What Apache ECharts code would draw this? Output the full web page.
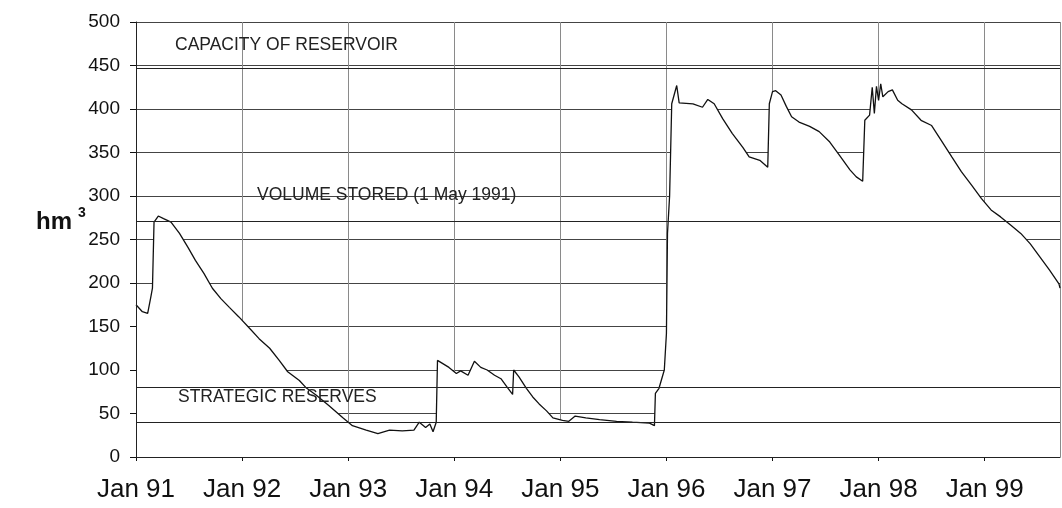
<!DOCTYPE html>
<html>
<head>
<meta charset="utf-8">
<script src="https://cdn.jsdelivr.net/npm/echarts@6/dist/echarts.min.js"></script>
<style>
  html, body { margin: 0; padding: 0; background: #fff; }
  #chart { width: 1062px; height: 508px; }
</style>
</head>
<body>
<div id="chart"></div>
<script>
// time in decimal years, volume in hm3
const years = [
  1991.00, 1991.06, 1991.11, 1991.14, 1991.155, 1991.17, 1991.21, 1991.26, 1991.33, 1991.41,
  1991.49, 1991.56, 1991.64, 1991.72, 1991.80, 1991.88, 1991.97, 1992.07, 1992.16, 1992.26,
  1992.35, 1992.43, 1992.54, 1992.60, 1992.70, 1992.82, 1992.95, 1993.04, 1993.17, 1993.28,
  1993.39, 1993.51, 1993.62, 1993.67, 1993.73, 1993.77, 1993.80, 1993.83, 1993.842, 1993.86,
  1993.95, 1994.02, 1994.06, 1994.13, 1994.19, 1994.25, 1994.31, 1994.38, 1994.44, 1994.50,
  1994.55, 1994.56, 1994.61, 1994.68, 1994.74, 1994.80, 1994.87, 1994.93, 1995.02, 1995.08,
  1995.14, 1995.24, 1995.37, 1995.53, 1995.68, 1995.84, 1995.887, 1995.896, 1995.93, 1995.98,
  1996.00, 1996.01, 1996.03, 1996.05, 1996.097, 1996.12, 1996.25, 1996.34, 1996.39, 1996.45,
  1996.53, 1996.62, 1996.72, 1996.78, 1996.88, 1996.955, 1996.97, 1997.00, 1997.03, 1997.08,
  1997.13, 1997.18, 1997.25, 1997.35, 1997.44, 1997.54, 1997.63, 1997.73, 1997.79, 1997.85,
  1997.87, 1997.915, 1997.94, 1997.96, 1997.98, 1998.00, 1998.02, 1998.04, 1998.09, 1998.13,
  1998.18, 1998.22, 1998.31, 1998.40, 1998.50, 1998.59, 1998.69, 1998.78, 1998.88, 1998.97,
  1999.06, 1999.15, 1999.25, 1999.34, 1999.43, 1999.52, 1999.61, 1999.70, 1999.71
];
const volume = [
  175, 167, 165, 184, 194, 270, 277, 274, 270, 257,
  241, 226, 211, 194, 182, 172, 161, 148, 136, 125,
  111, 98, 88, 80, 71, 59, 45, 36, 31, 27,
  31, 30, 31, 40, 34, 38, 29, 40, 111, 110,
  103, 96, 99, 94, 110, 103, 100, 94, 90, 80,
  72, 100, 92, 79, 69, 61, 53, 45, 42, 41,
  47, 45, 43, 41, 40, 39, 36, 73, 79, 100,
  142, 257, 300, 406, 427, 407, 406, 402, 411, 406,
  389, 372, 356, 345, 341, 333, 406, 420, 421, 416,
  403, 391, 385, 380, 374, 362, 347, 330, 322, 317,
  387, 393, 425, 395, 426, 410, 429, 414, 420, 422,
  410, 406, 399, 387, 381, 364, 345, 328, 312, 297,
  284, 276, 266, 257, 245, 230, 215, 199, 194
];
// horizontal reference levels drawn across the plot
const refLevels = [447, 271, 80, 40];
const yTicks = [0, 500, 50];
const refNames = ['CAPACITY OF RESERVOIR', 'VOLUME STORED (1 May 1991)', 'STRATEGIC RESERVES'];

const chart = echarts.init(document.getElementById('chart'));
const font = 'Liberation Sans, Arial, sans-serif';

const option = {
  animation: false,
  backgroundColor: '#fff',
  grid: { left: 136, right: 2, top: 22, bottom: 51 },
  xAxis: {
    type: 'value',
    min: 1991,
    max: 1999.71,
    interval: 1,
    axisLine: { show: true, lineStyle: { color: '#111', width: 1 } },
    axisTick: { show: true, length: 4, lineStyle: { color: '#111' } },
    axisLabel: {
      margin: 20,
      fontSize: 26,
      fontFamily: font,
      color: '#111',
      showMaxLabel: false,
      formatter: v => (Math.abs(v - Math.round(v)) < 1e-6 ? 'Jan ' + String(Math.round(v)).slice(2) : '')
    },
    splitLine: { show: true, lineStyle: { color: '#8a8a8a', width: 1 } }
  },
  yAxis: {
    type: 'value',
    min: yTicks[0],
    max: yTicks[1],
    interval: yTicks[2],
    axisLine: { show: true, lineStyle: { color: '#111', width: 1 } },
    axisTick: { show: true, length: 6, lineStyle: { color: '#111' } },
    axisLabel: { margin: 16, fontSize: 19, fontFamily: font, color: '#111' },
    splitLine: { show: true, lineStyle: { color: '#444', width: 1 } }
  },
  series: [
    {
      type: 'line',
      data: years.map((t, i) => [t, volume[i]]),
      showSymbol: false,
      lineStyle: { color: '#111', width: 1.3 },
      areaStyle: { color: '#fff', opacity: 1, origin: 'start' },
      z: 2,
      markLine: {
        silent: true,
        symbol: 'none',
        label: { show: false },
        lineStyle: { color: '#222', width: 1, type: 'solid' },
        // reference levels, plus the two axis lines kept above the white fill
        data: refLevels.map(v => ({ yAxis: v })).concat([{ yAxis: 0 }, { xAxis: 1991 }])
      }
    }
  ],
  graphic: [
    { type: 'text', z: 100, left: 175, top: 36, style: { text: refNames[0], font: '17.5px ' + font, fill: '#222' } },
    { type: 'text', z: 100, left: 257, top: 186, style: { text: refNames[1], font: '17.5px ' + font, fill: '#222' } },
    { type: 'text', z: 100, left: 178, top: 388, style: { text: refNames[2], font: '17.5px ' + font, fill: '#222' } },
    { type: 'text', z: 100, left: 36, top: 210, style: { text: 'hm', font: 'bold 24px ' + font, fill: '#111' } },
    { type: 'text', z: 100, left: 78, top: 206, style: { text: '3', font: 'bold 14px ' + font, fill: '#111' } }
  ]
};
chart.setOption(option);
</script>
</body>
</html>
